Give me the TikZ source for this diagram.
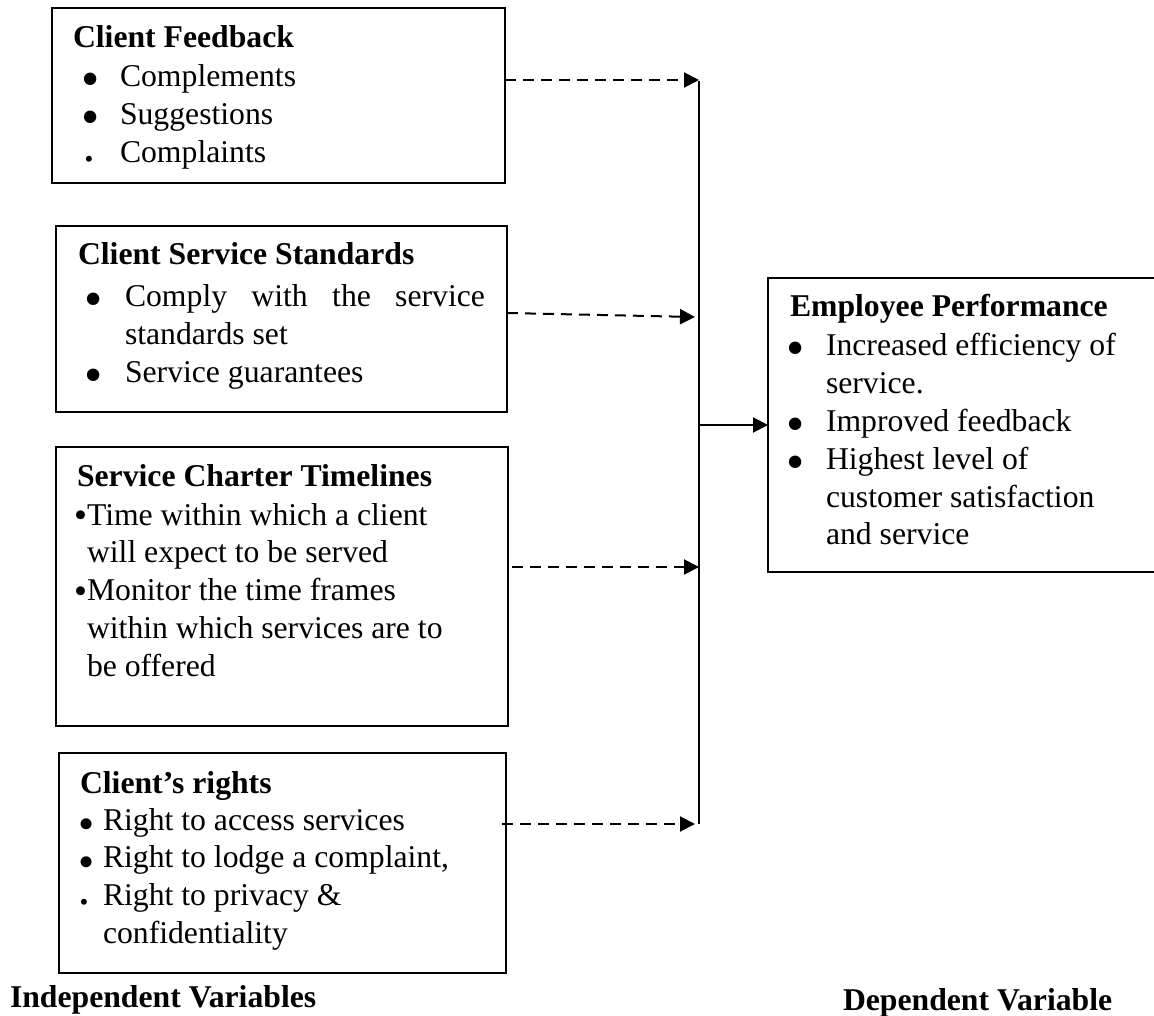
\documentclass[tikz,border=0pt]{standalone}
\usepackage{fontspec}
\setmainfont{Liberation Serif}
\usetikzlibrary{arrows.meta}

% a bullet of given font size, lowered or raised by the given amount
\newcommand\bul[2]{\smash{\raisebox{#2pt}{\fontsize{#1}{#1}\selectfont •}}}
\newcommand\bigbul{\bul{52}{-10}}
\newcommand\midbul{\bul{37}{-2.5}}
\newcommand\rightbul{\bul{46}{-9.5}}
\newcommand\smallbul{\bul{25}{-4.5}}
% one line of a list: kern to the bullet centre, bullet, kern to the text
\newcommand\itemline[4]{\hbox{\kern#2pt\makebox[0pt]{#1}\kern#3pt #4}}
\newcommand\contline[2]{\hbox{\kern#1pt #2}}

\begin{document}
\begin{tikzpicture}[x=1pt,y=-1pt,
  box/.style={draw,line width=2pt,inner sep=0pt,outer sep=0pt},
  txt/.style={anchor=base west,inner sep=0pt,outer sep=0pt,
    font=\fontsize{31.7}{37.8}\selectfont},
  dasharrow/.style={line width=2pt,dash pattern=on 11pt off 7pt,
    -{Triangle[length=15pt,width=15pt]}},
  solidarrow/.style={line width=2pt,-{Triangle[length=15pt,width=15pt]}},
  bus/.style={line width=2pt}]
\useasboundingbox (0,0) rectangle (1154,1016);

% boxes of the independent variables
\node[box,minimum width=453pt,minimum height=175pt] (b1) at (278.5,95.5) {};
\node[box,minimum width=451pt,minimum height=186pt] (b2) at (281.5,319) {};
\node[box,minimum width=452pt,minimum height=279pt] (b3) at (282,586.5) {};
\node[box,minimum width=447pt,minimum height=220pt] (b4) at (282.5,863) {};
% box of the dependent variable, running off the right edge
\node[box,minimum width=392pt,minimum height=294pt] (b5) at (964,425) {};

% box texts
\node[txt] (t1) at (73,48) {\vtop{\hbox{\bfseries Client Feedback}\vskip1.2pt
  \itemline{\bigbul}{18}{29}{Complements}
  \itemline{\bigbul}{18}{29}{Suggestions}
  \itemline{\smallbul}{16}{31}{Complaints}}};

\node[txt] (t2) at (78,265) {\vtop{\hbox{\bfseries Client Service Standards}\vskip4.2pt
  \itemline{\bigbul}{16}{31}{\hbox to 360pt{Comply\hfill with\hfill the\hfill service}}
  \contline{47}{standards set}
  \itemline{\bigbul}{16}{31}{Service guarantees}}};

\node[txt] (t3) at (77,486) {\vtop{\hbox{\bfseries Service Charter Timelines}\vskip1.2pt
  \itemline{\midbul}{3.5}{6.5}{Time within which a client}
  \contline{10}{will expect to be served}
  \itemline{\midbul}{3.5}{6.5}{Monitor the time frames}
  \contline{10}{within which services are to}
  \contline{10}{be offered}}};

\node[txt] (t4) at (80,793) {\vtop{\hbox{\bfseries Client’s rights}\vskip-0.8pt
  \itemline{\rightbul}{7}{16}{Right to access services}
  \itemline{\rightbul}{7}{16}{Right to lodge a complaint,}
  \itemline{\smallbul}{4}{19}{Right to privacy \&}
  \contline{23}{confidentiality}}};

\node[txt] (t5) at (790,317) {\vtop{\hbox{\bfseries Employee Performance}\vskip1.2pt
  \itemline{\bigbul}{6}{30}{Increased efficiency of}
  \contline{36}{service.}
  \itemline{\bigbul}{6}{30}{Improved feedback}
  \itemline{\bigbul}{6}{30}{Highest level of}
  \contline{36}{customer satisfaction}
  \contline{36}{and service}}};

% captions
\node[txt,font=\fontsize{31.7}{37.8}\selectfont\bfseries] (lind) at (10,1007) {Independent Variables};
\node[txt,font=\fontsize{31.7}{37.8}\selectfont\bfseries] (ldep) at (843,1010) {Dependent Variable};

% collecting line and the points where the dashed arrows meet it
\coordinate (busTop) at (699,81);
\coordinate (busBot) at (699,824);
\coordinate (j1) at (699,80);
\coordinate (j2) at (695,317);
\coordinate (j3) at (699,567);
\coordinate (j4) at (695,824);

\draw[bus] (busTop) -- (busBot);
\draw[dasharrow] (b1.east |- j1) -- (j1);
\draw[dasharrow] ([yshift=6pt]b2.east) -- (j2);
\draw[dasharrow] ([xshift=4pt]b3.east |- j3) -- (j3);
\draw[dasharrow] ([xshift=-4pt]b4.east |- j4) -- (j4);
\draw[solidarrow] (b5.west -| busTop) -- (b5.west);
\end{tikzpicture}
\end{document}
